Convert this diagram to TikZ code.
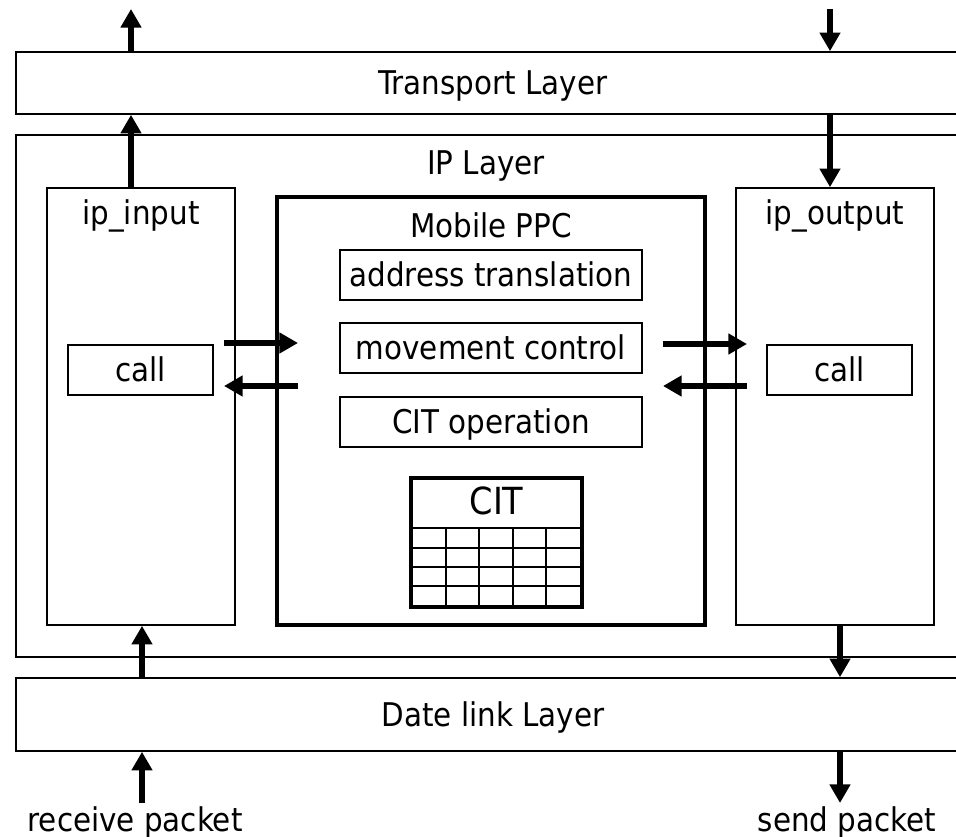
\documentclass[tikz,border=0pt]{standalone}
\usepackage{fontspec}
\setmainfont{DejaVu Sans Condensed}
\usetikzlibrary{arrows.meta}
\begin{document}
\begin{tikzpicture}[x=0.75pt,y=-0.75pt,
  every node/.style={font=\fontsize{24.5}{28}\selectfont},
  box/.style={draw, line width=1.2pt, inner sep=0pt, text height=20pt, text depth=2pt},
  ppcbox/.style={draw, line width=3.3pt, inner sep=0pt},
  arr/.style={line width=5.2pt, -{Triangle[length=14pt,width=15pt]}},
  grid/.style={line width=1.8pt}
]
\useasboundingbox (0,0) rectangle (956,837);
\begin{scope}
\clip (0,0) rectangle (956,837);
% layers
\node[box, minimum width=715.5pt, minimum height=46.5pt] (tr) at (493,83) {Transport Layer};
\node[box, minimum width=715.5pt, minimum height=391.5pt] (ip) at (493,396) {};
\node[anchor=base] (iptitle) at (486,175) {IP Layer};
\node[box, minimum width=715.5pt, minimum height=54.75pt] (dl) at (493,714.5) {Date link Layer};
% ip_input / ip_output
\node[box, minimum width=141pt, minimum height=327.75pt] (ipin) at (141,406.5) {};
\node[anchor=base] (ipintitle) at (141,225) {ip\_input};
\node[box, minimum width=148.5pt, minimum height=327.75pt] (ipout) at (835,406.5) {};
\node[anchor=base] (ipouttitle) at (835,225) {ip\_output};
\node[box, minimum width=108.75pt, minimum height=37.5pt] (callL) at (140.5,370) {call};
\node[box, minimum width=108.75pt, minimum height=37.5pt] (callR) at (839.5,370) {call};
% Mobile PPC
\node[ppcbox, minimum width=321pt, minimum height=321pt] (ppc) at (491,411) {};
\node[anchor=base] (ppctitle) at (491,238) {Mobile PPC};
\node[box, minimum width=226.5pt, minimum height=37.5pt] (addr) at (491,275) {address translation};
\node[box, minimum width=226.5pt, minimum height=37.5pt] (move) at (491,348) {movement control};
\node[box, minimum width=226.5pt, minimum height=37.5pt] (citop) at (491,422) {CIT operation};
% CIT table
\draw[grid] (411,528) -- (582,528);
\foreach \yy in {548,567,586} \draw[grid] (411,\yy) -- (582,\yy);
\foreach \xx in {446,479,513,546} \draw[grid] (\xx,528) -- (\xx,607);
\node[draw, line width=2.6pt, inner sep=0pt, minimum width=128.25pt, minimum height=96.75pt] (cit) at (496.5,542.5) {};
\node[anchor=base, font=\fontsize{28}{32}\selectfont] (cittitle) at (496.5,514) {CIT};
% vertical arrows
\coordinate (upL) at (131,9);
\coordinate (dnR) at (830,9);
\coordinate (rcv) at (142,803);
\coordinate (snd) at (840,803);
\draw[arr] (upL |- tr.north) -- (upL);
\draw[arr] (upL |- ipin.north) -- (upL |- tr.south);
\draw[arr] (dnR) -- (dnR |- tr.north);
\draw[arr] (dnR |- tr.south) -- (dnR |- ipout.north);
\draw[arr] (rcv) -- (rcv |- dl.south);
\draw[arr] (rcv |- dl.north) -- (rcv |- ipin.south);
\draw[arr] (snd |- ipout.south) -- (snd |- dl.north);
\draw[arr] (snd |- dl.south) -- (snd);
% side arrows
\coordinate (a1) at (224,343); \coordinate (a2) at (298,343);
\coordinate (a3) at (298,386); \coordinate (a4) at (224,386);
\coordinate (b1) at (663,344); \coordinate (b2) at (747,344);
\coordinate (b3) at (747,386); \coordinate (b4) at (663,386);
\draw[arr] (a1) -- (a2);
\draw[arr] (a3) -- (a4);
\draw[arr] (b1) -- (b2);
\draw[arr] (b3) -- (b4);
% labels
\node[anchor=base] (rcvlbl) at (135,831) {receive packet};
\node[anchor=base] (sndlbl) at (847,831) {send packet};
\end{scope}
\end{tikzpicture}
\end{document}
